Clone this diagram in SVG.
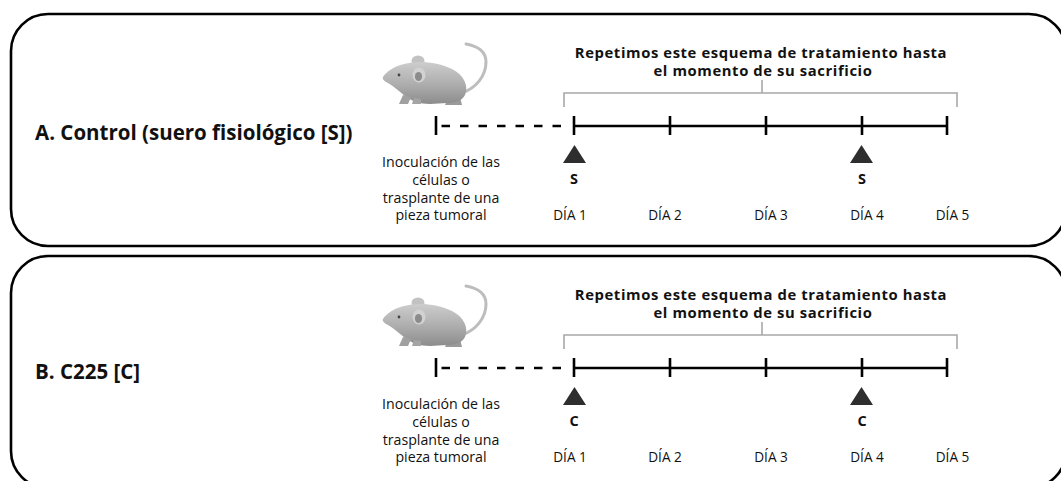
<svg xmlns="http://www.w3.org/2000/svg" xmlns:xlink="http://www.w3.org/1999/xlink" width="1061" height="481" viewBox="0 0 1061 481">
  <style>
    .box{fill:#fff;stroke:#000;stroke-width:2.6}
    .title{font-family:"Open Sans","Liberation Sans",sans-serif;font-weight:700;font-size:20.5px;fill:#111}
    .head{font-family:"Open Sans","Liberation Sans",sans-serif;font-weight:700;font-size:14.8px;letter-spacing:0.6px;fill:#111;text-anchor:middle}
    .note{font-family:"Open Sans","Liberation Sans",sans-serif;font-size:14.2px;fill:#111;text-anchor:middle}
    .day{font-family:"Open Sans","Liberation Sans",sans-serif;font-size:13.6px;fill:#111;text-anchor:middle}
    .drug{font-family:"Open Sans","Liberation Sans",sans-serif;font-weight:700;font-size:14.5px;fill:#111;text-anchor:middle}
    .axis{stroke:#000;stroke-width:2.6;fill:none}
    .dash{stroke-dasharray:8.5 10}
    .bracket{stroke:#a8a8a8;stroke-width:1.6;fill:none}
    .dose{fill:#2e2e2e}
  </style>
  <defs>
    <linearGradient id="fur" x1="0" y1="0" x2="0" y2="1">
      <stop offset="0" stop-color="#cdcdcd"/>
      <stop offset="0.55" stop-color="#acacac"/>
      <stop offset="1" stop-color="#8c8c8c"/>
    </linearGradient>
    <!-- lab mouse, facing left -->
    <g id="mouse">
      <path d="M462,93 C476,88 486,76 486,62 C486,52 478,46 466,44" fill="none" stroke="#bdbdbd" stroke-width="3" stroke-linecap="round"/>
      <ellipse cx="418" cy="61" rx="6.5" ry="5.5" fill="#c2c2c2"/>
      <path d="M448,98 L445,105 L462,105 L460,97 Z" fill="#9a9a9a"/>
      <path d="M383,77 C386,72 394,66 404,64 C418,60 438,62 452,69 C464,75 469,86 465,95 C462,101 455,103 447,103 L430,104 C420,104 411,101 405,96 C399,91 393,86 388,83 C384,81 382,79 383,77 Z" fill="url(#fur)"/>
      <path d="M403,95 L399,104 L408,104 L411,97 Z" fill="#a0a0a0"/>
      <path d="M414,98 L412,104 L421,104 L421,99 Z" fill="#a4a4a4"/>
      <ellipse cx="419" cy="75" rx="6.5" ry="7.5" fill="#d2d2d2"/>
      <ellipse cx="418.5" cy="76.5" rx="3.6" ry="4.6" fill="#8c8c8c"/>
      <circle cx="399" cy="75" r="1.4" fill="#444"/>
    </g>
    <!-- timeline ticks and dose triangles -->
    <g id="axis">
      <path class="axis dash" d="M441.5,126 H562"/>
      <path class="axis" d="M574,126 H947 M436,116 V135 M574,116 V135 M670,116 V135 M766,116 V135 M862,116 V135 M947,116 V135"/>
      <path class="bracket" d="M564,107 V93 H957 V107 M762,93 V80"/>
      <path class="dose" d="M563,163 L574.5,145 L586,163 Z M850,163 L861.5,145 L873,163 Z"/>
    </g>
  </defs>

  <!-- Panel A: control (saline) -->
  <g id="panel-a">
    <rect class="box" x="11" y="14" width="1055" height="232" rx="37"/>
    <text class="title" x="35" y="140">A. Control (suero fisiológico [S])</text>
    <use xlink:href="#mouse"/>
    <text class="head" y="57.5"><tspan x="761">Repetimos este esquema de tratamiento hasta</tspan><tspan x="763" dy="18.6">el momento de su sacrificio</tspan></text>
    <text class="note" y="166.5"><tspan x="441">Inoculación de las</tspan><tspan x="441" dy="18.3">células o</tspan><tspan x="441" dy="18.3">trasplante de una</tspan><tspan x="441" dy="17">pieza tumoral</tspan></text>
    <text class="drug" x="574" y="184">S</text>
    <text class="drug" x="862" y="184">S</text>
    <text class="day" x="570" y="220">DÍA 1</text>
    <text class="day" x="665" y="220">DÍA 2</text>
    <text class="day" x="771" y="220">DÍA 3</text>
    <text class="day" x="867" y="220">DÍA 4</text>
    <text class="day" x="952.5" y="220">DÍA 5</text>
  </g>

  <!-- Panel B: C225 -->
  <g id="panel-b">
    <rect class="box" x="11" y="256" width="1055" height="232" rx="37"/>
    <text class="title" x="35" y="379">B. C225 [C]</text>
    <use xlink:href="#mouse" y="242"/>
    <text class="head" y="299.5"><tspan x="761">Repetimos este esquema de tratamiento hasta</tspan><tspan x="763" dy="18.6">el momento de su sacrificio</tspan></text>
    <text class="note" y="408.5"><tspan x="441">Inoculación de las</tspan><tspan x="441" dy="18.3">células o</tspan><tspan x="441" dy="18.3">trasplante de una</tspan><tspan x="441" dy="17">pieza tumoral</tspan></text>
    <text class="drug" x="574" y="426">C</text>
    <text class="drug" x="862" y="426">C</text>
    <text class="day" x="570" y="462">DÍA 1</text>
    <text class="day" x="665" y="462">DÍA 2</text>
    <text class="day" x="771" y="462">DÍA 3</text>
    <text class="day" x="867" y="462">DÍA 4</text>
    <text class="day" x="952.5" y="462">DÍA 5</text>
  </g>

  <!-- Timelines -->
  <g id="connectors">
    <use xlink:href="#axis"/>
    <use xlink:href="#axis" y="242"/>
  </g>
</svg>
